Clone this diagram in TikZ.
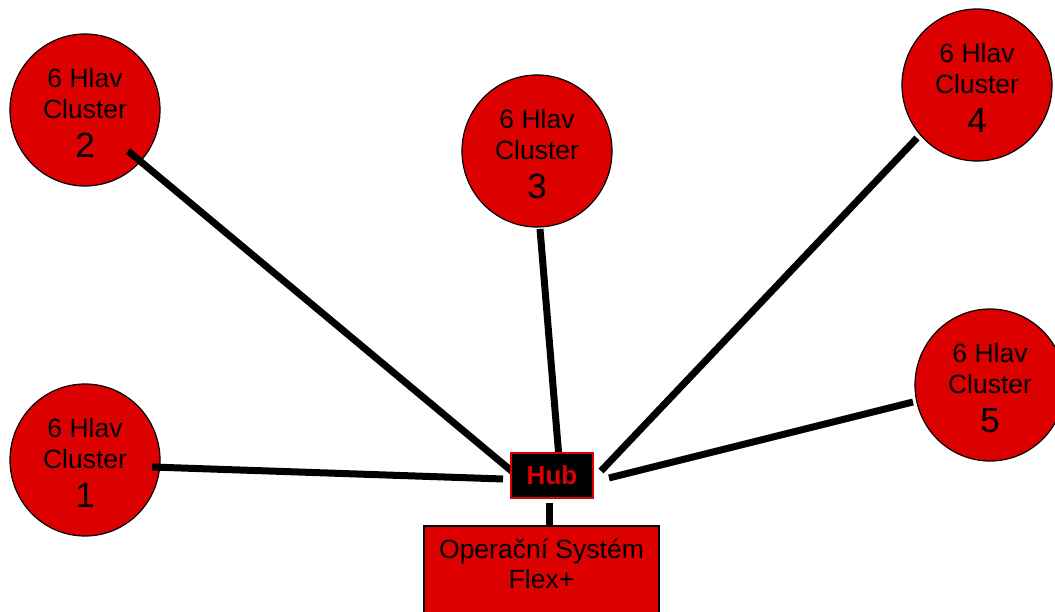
\documentclass[tikz,border=0pt]{standalone}
\usepackage{fontspec}
\setmainfont{Liberation Sans}
\usetikzlibrary{shapes.geometric}
\definecolor{clred}{RGB}{221,0,0}
\newcommand\clustertext[1]{\rule{0pt}{25pt}6 Hlav\\Cluster\\[8pt]{\fontsize{35}{39}\selectfont #1}}
\begin{document}
\begin{tikzpicture}[x=1pt,y=-1pt,
  cluster/.style={ellipse,draw=black,line width=1.2pt,fill=clred,
    minimum width=150pt,minimum height=152pt,inner sep=0pt,align=center,
    font=\fontsize{26.5}{31}\selectfont},
  link/.style={line width=7pt},
  hubbox/.style={draw=clred,fill=black,line width=2pt,minimum width=82pt,
    minimum height=45pt,inner sep=0pt,text=clred,
    font=\bfseries\fontsize{26}{30}\selectfont},
  osbox/.style={draw=black,fill=clred,line width=1.5pt,minimum width=235pt,
    minimum height=110pt,inner sep=0pt,anchor=north},
  ostext/.style={align=center,inner sep=0pt,anchor=north,
    font=\fontsize{26.5}{30}\selectfont}
]
\useasboundingbox (0,0) rectangle (1055,612);

% cluster circles
\node[cluster] (c1) at (85,460) {\clustertext{1}};
\node[cluster] (c2) at (85,110) {\clustertext{2}};
\node[cluster] (c3) at (537,151) {\clustertext{3}};
\node[cluster] (c4) at (977,85) {\clustertext{4}};
\node[cluster] (c5) at (990,385) {\clustertext{5}};

% operating system box (runs off the bottom edge)
\node[osbox] (os) at (541.5,525) {};
\node[ostext] (ostx) at (541.5,538.5) {Operační Systém\\Flex+};

% link end points
\coordinate (e1) at (152,467); \coordinate (h1) at (503,479);
\coordinate (e2) at (128,151); \coordinate (h2) at (520,478);
\coordinate (e3) at (540,229); \coordinate (h3) at (560,470);
\coordinate (e4) at (917,138); \coordinate (h4) at (601,471);
\coordinate (e5) at (913,402); \coordinate (h5) at (609,478);
\coordinate (h6) at (549,503);

% links
\draw[link] (e1) -- (h1);
\draw[link] (e2) -- (h2);
\draw[link] (e3) -- (h3);
\draw[link] (e4) -- (h4);
\draw[link] (e5) -- (h5);
\draw[link] (h6) -- (h6 |- os.north);

% hub
\node[hubbox] (hub) at (552,475.5) {Hub};
\end{tikzpicture}
\end{document}
